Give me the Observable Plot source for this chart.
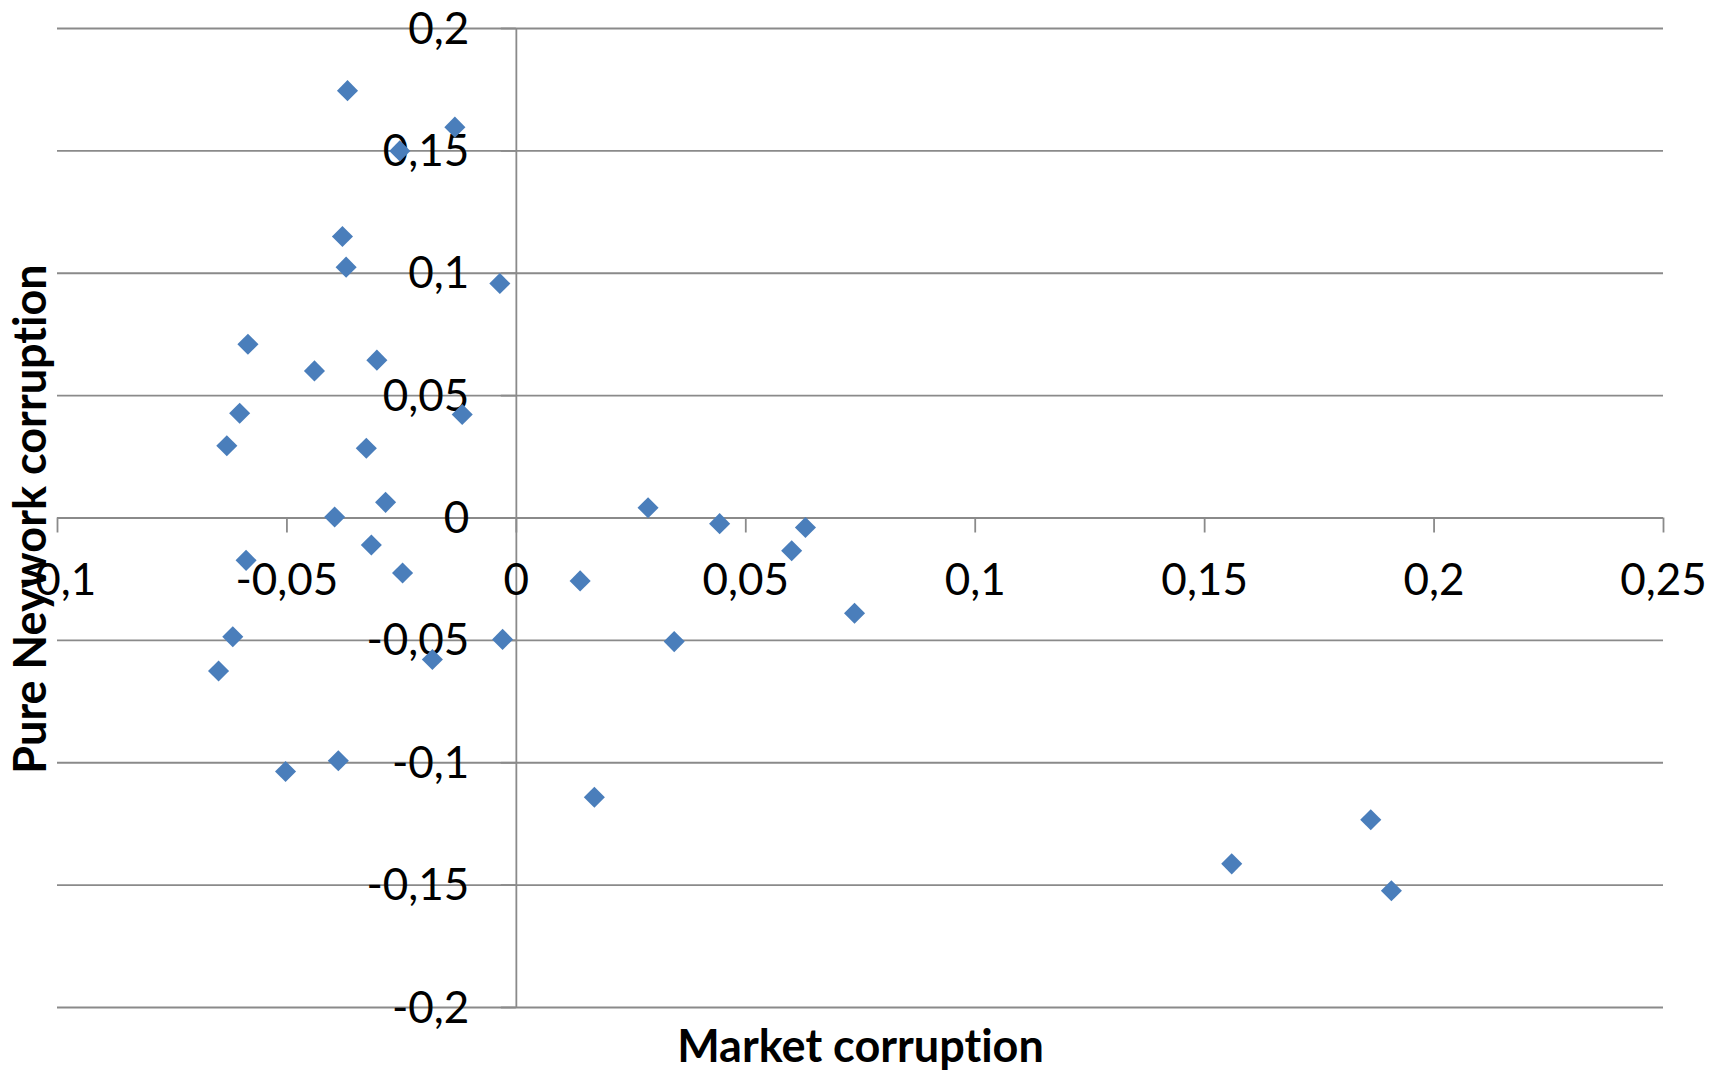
<!DOCTYPE html>
<html>
<head>
<meta charset="utf-8">
<script src="https://cdn.jsdelivr.net/npm/d3@7"></script>
<script src="https://cdn.jsdelivr.net/npm/@observablehq/plot@0.6"></script>
<style>
  html, body { margin: 0; padding: 0; background: #fff; }
  #chart svg { display: block; font-variant-ligatures: none; }
  #chart svg text { font-variant-ligatures: none; }
</style>
</head>
<body>
<div id="chart"></div>
<script>
// Data
const marketCorruption = [-0.0368, -0.0134, -0.0254, -0.0379, -0.0371, -0.0036, -0.0585, -0.044, -0.0304, -0.0118,
  -0.0603, -0.0631, -0.0327, -0.0285, -0.0396, -0.0316, -0.0589, -0.0248, 0.0139, -0.0618,
  -0.003, -0.0183, -0.0649, -0.0388, -0.0503, 0.017, 0.0287, 0.0443, 0.063, 0.06,
  0.0737, 0.0344, 0.1559, 0.1862, 0.1907];
const networkCorruption = [0.1746, 0.1597, 0.150, 0.115, 0.1025, 0.0958, 0.071, 0.0601, 0.0645, 0.0423,
  0.0428, 0.0295, 0.0285, 0.0064, 0.0004, -0.011, -0.0173, -0.0225, -0.0257, -0.0485,
  -0.0496, -0.0578, -0.0625, -0.0992, -0.1036, -0.1141, 0.0042, -0.0023, -0.0039, -0.0134,
  -0.0389, -0.0505, -0.1413, -0.1233, -0.1523];

const xTicks = [-0.1, -0.05, 0, 0.05, 0.1, 0.15, 0.2, 0.25];
const xTickLabels = ["-0,1", "-0,05", "0", "0,05", "0,1", "0,15", "0,2", "0,25"];
const yTicks = [0.2, 0.15, 0.1, 0.05, 0, -0.05, -0.1, -0.15, -0.2];
const yTickLabels = ["0,2", "0,15", "0,1", "0,05", "0", "-0,05", "-0,1", "-0,15", "-0,2"];

const xTitle = "Market corruption";
const yTitle = "Pure Neywork corruption";

const points = marketCorruption.map((x, i) => ({x, y: networkCorruption[i]}));
const xTickData = xTicks.map((v, i) => ({v, label: xTickLabels[i]}));
const yTickData = yTicks.map((v, i) => ({v, label: yTickLabels[i]}));

const gridColor = "#8a8a8a";

const chart = Plot.plot({
  width: 1727,
  height: 1073,
  marginLeft: 57,
  marginRight: 64,
  marginTop: 28,
  marginBottom: 66,
  style: {fontFamily: "Lato, 'Open Sans', sans-serif", background: "#fff", color: "#000"},
  x: {domain: [-0.1, 0.25], axis: null},
  y: {domain: [-0.2, 0.2], axis: null},
  marks: [
    // horizontal gridlines
    Plot.ruleY(yTicks, {stroke: gridColor, strokeWidth: 1.8}),
    // vertical axis line at x = 0
    Plot.ruleX([0], {stroke: gridColor, strokeWidth: 1.8}),
    // horizontal axis line at y = 0
    Plot.ruleY([0], {stroke: gridColor, strokeWidth: 1.8}),
    // x tick marks (downward from y = 0)
    Plot.ruleX(xTickData, {x: "v", y1: () => 0, y2: () => 0, insetBottom: -15, stroke: gridColor, strokeWidth: 1.8}),
    // y tick marks (leftward from x = 0)
    Plot.ruleY(yTickData, {y: "v", x1: () => 0, x2: () => 0, insetLeft: -15, stroke: gridColor, strokeWidth: 1.8}),
    // x tick labels
    Plot.text(xTickData, {x: "v", y: () => 0, text: "label", dy: 63, fontSize: 44, fill: "#000"}),
    // y tick labels
    Plot.text(yTickData, {x: () => 0, y: "v", text: "label", dx: -47, dy: 1, textAnchor: "end", fontSize: 44, fill: "#000"}),
    // points
    Plot.dot(points, {x: "x", y: "y", symbol: "diamond2", r: 9.5, fill: "#4a7ebb", stroke: "none"}),
    // axis titles
    Plot.text([xTitle], {frameAnchor: "bottom", lineAnchor: "middle", textAnchor: "middle", dy: 40, fontSize: 45, fontWeight: "bold", fill: "#000"}),
    Plot.text([yTitle], {frameAnchor: "left", lineAnchor: "middle", textAnchor: "middle", dx: -26, dy: 1, rotate: -90, fontSize: 45, fontWeight: "bold", fill: "#000"})
  ]
});
document.getElementById("chart").appendChild(chart);
</script>
</body>
</html>
